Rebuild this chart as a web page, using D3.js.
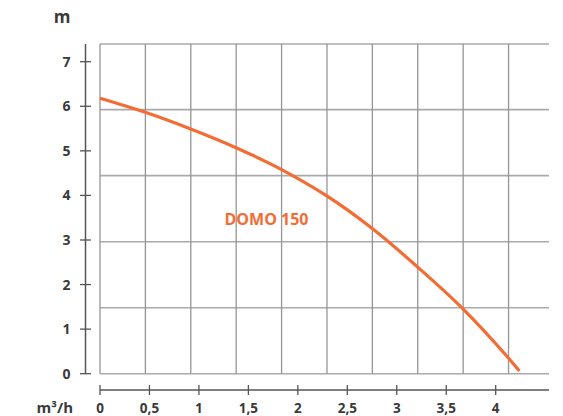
<!DOCTYPE html>
<html>
<head>
<meta charset="utf-8">
<script src="https://cdn.jsdelivr.net/npm/d3@7"></script>
<style>
  html, body { margin: 0; padding: 0; background: #fff; }
  svg text { font-family: "Open Sans", "DejaVu Sans", sans-serif; }
</style>
</head>
<body>
<svg id="chart" width="563" height="416"></svg>
<script>
// Pump curve: flow (m³/h) vs head (m)
const flow = [0, 0.458, 0.917, 1.375, 1.831, 2.289, 2.749, 3.207, 3.664, 4.122, 4.24];
const head = [6.18, 5.865, 5.49, 5.07, 4.586, 3.994, 3.262, 2.40, 1.467, 0.368, 0.06];
const seriesName = "DOMO 150";

const xTicks = [0, 0.5, 1, 1.5, 2, 2.5, 3, 3.5, 4];
const xTickLabels = ["0", "0,5", "1", "1,5", "2", "2,5", "3", "3,5", "4"];
const yTicks = [0, 1, 2, 3, 4, 5, 6, 7];
const yTickLabels = ["0", "1", "2", "3", "4", "5", "6", "7"];

// background grid (independent of the axis ticks)
const gridColsQ = [0, 0.459, 0.918, 1.377, 1.836, 2.295, 2.754, 3.213, 3.672, 4.131];
const gridRowsH = [0, 1.481, 2.962, 4.443, 5.924, 7.397];

const svg = d3.select("#chart");
const ink = "#3a3a3a";
const orange = "#f36c34";

const x = d3.scaleLinear().domain([0, 4.54]).range([100, 549]);
const y = d3.scaleLinear().domain([0, 7.397]).range([373.7, 44]);

// grid
const grid = svg.append("g");
grid.selectAll("line.h").data(gridRowsH).join("line")
  .attr("x1", x(0)).attr("x2", x(4.54))
  .attr("y1", d => y(d)).attr("y2", d => y(d))
  .attr("stroke", "#aaaaaa").attr("stroke-width", 1.6);
grid.selectAll("line.v").data(gridColsQ).join("line")
  .attr("x1", d => x(d)).attr("x2", d => x(d))
  .attr("y1", y(0)).attr("y2", y(7.397))
  .attr("stroke", "#959595").attr("stroke-width", 1.3);

// y axis
const yAxisX = 85.5;
const yAx = svg.append("g").attr("transform", `translate(${yAxisX},0)`);
yAx.append("line").attr("y1", y(7.397)).attr("y2", y(0))
  .attr("stroke", "#555").attr("stroke-width", 1.5);
yAx.selectAll("line.t").data(yTicks).join("line")
  .attr("x1", -5.5).attr("x2", 5.5)
  .attr("y1", d => y(d)).attr("y2", d => y(d))
  .attr("stroke", "#555").attr("stroke-width", 1.3);
yAx.selectAll("text").data(yTicks).join("text")
  .attr("x", -15).attr("y", d => y(d)).attr("dy", "0.36em")
  .attr("text-anchor", "end")
  .attr("font-size", 14).attr("font-weight", 700).attr("fill", ink)
  .text((d, i) => yTickLabels[i]);

// x axis
const xAxisY = 390;
const xAx = svg.append("g").attr("transform", `translate(0,${xAxisY})`);
xAx.append("line").attr("x1", x(0)).attr("x2", x(4.54))
  .attr("stroke", "#555").attr("stroke-width", 1.5);
const xAxisScale = d3.scaleLinear().domain([0, 4]).range([100, 495.7]);
xAx.selectAll("line.t").data(xTicks).join("line")
  .attr("x1", d => xAxisScale(d)).attr("x2", d => xAxisScale(d))
  .attr("y1", -5).attr("y2", 5)
  .attr("stroke", "#555").attr("stroke-width", 1.3);
xAx.selectAll("text").data(xTicks).join("text")
  .attr("x", d => xAxisScale(d)).attr("y", 22.5)
  .attr("text-anchor", "middle")
  .attr("font-size", 13.5).attr("font-weight", 700).attr("fill", ink)
  .text((d, i) => xTickLabels[i]);

// axis units
svg.append("text").attr("x", 62).attr("y", 23)
  .attr("text-anchor", "middle").attr("font-size", 17).attr("font-weight", 700)
  .attr("fill", ink).text("m");
svg.append("text").attr("x", 73).attr("y", 412.5)
  .attr("text-anchor", "end").attr("font-size", 15).attr("font-weight", 700)
  .attr("fill", ink).text("m³/h");

// curve (plotted on the axis scales)
const pts = flow.map((q, i) => [xAxisScale(q), y(head[i])]);
svg.append("path")
  .attr("d", d3.line().curve(d3.curveMonotoneX)(pts))
  .attr("fill", "none").attr("stroke", orange).attr("stroke-width", 3.2);

svg.append("text").attr("x", 266.5).attr("y", 225)
  .attr("text-anchor", "middle").attr("font-size", 16).attr("font-weight", 700)
  .attr("fill", orange).text(seriesName);
</script>
</body>
</html>
